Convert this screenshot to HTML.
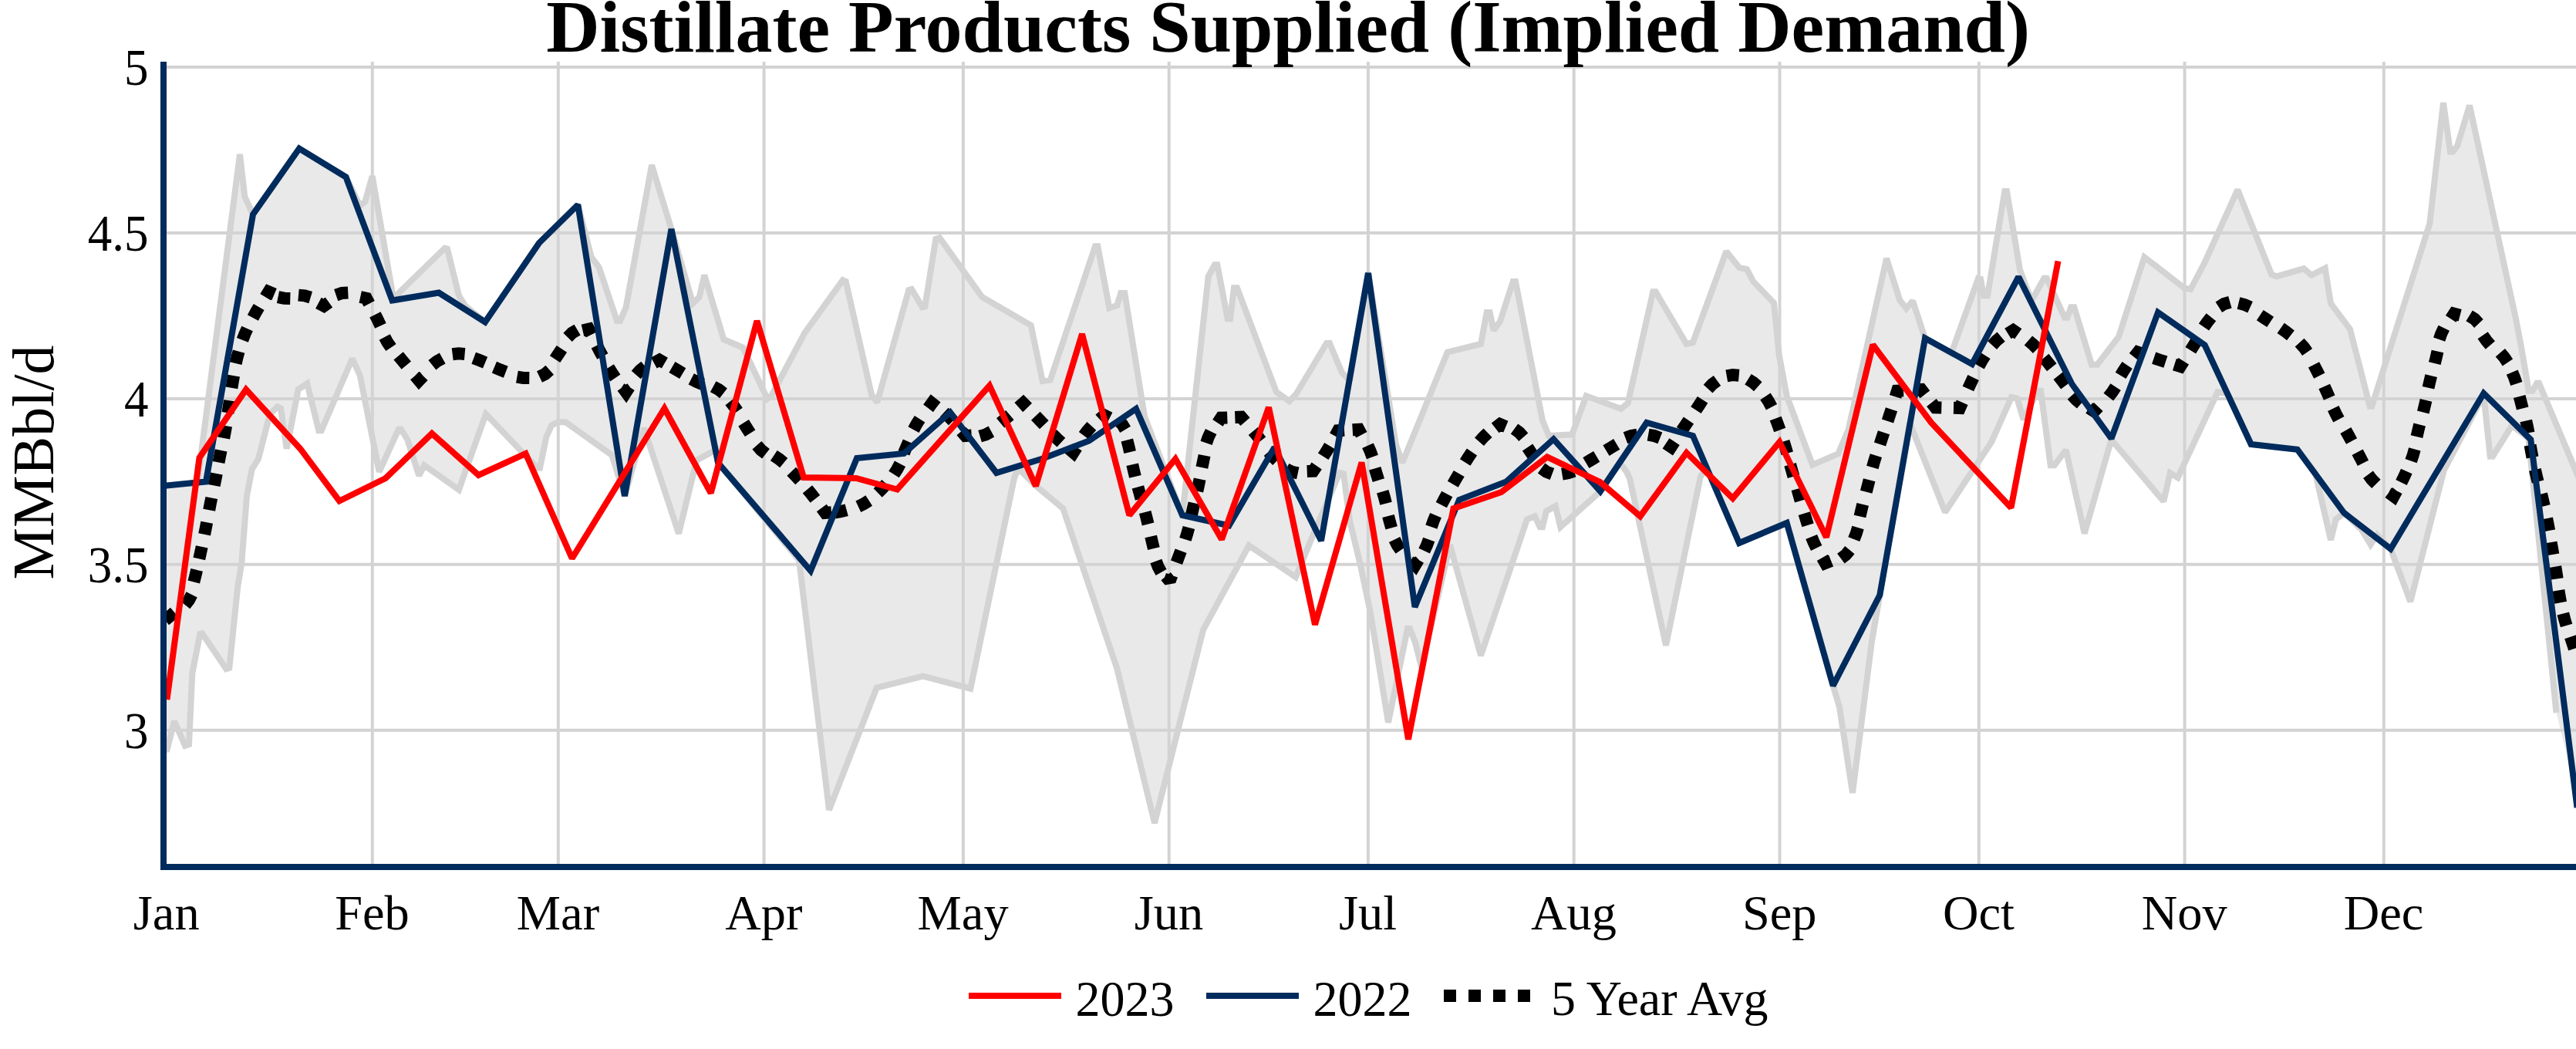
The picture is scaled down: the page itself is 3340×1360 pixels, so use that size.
<!DOCTYPE html>
<html><head><meta charset="utf-8"><title>Distillate Products Supplied</title>
<style>html,body{margin:0;padding:0;background:#fff}body{width:3340px;height:1360px;overflow:hidden;font-family:"Liberation Serif",serif}</style></head>
<body>
<svg width="3340" height="1360" viewBox="0 0 3340 1360" style="display:block">
<rect width="3340" height="1360" fill="#fff"/>
<g stroke="#d3d3d3" stroke-width="4" fill="none"><line x1="482.8" y1="80" x2="482.8" y2="1120"/><line x1="723.8" y1="80" x2="723.8" y2="1120"/><line x1="990.6" y1="80" x2="990.6" y2="1120"/><line x1="1248.9" y1="80" x2="1248.9" y2="1120"/><line x1="1515.7" y1="80" x2="1515.7" y2="1120"/><line x1="1773.9" y1="80" x2="1773.9" y2="1120"/><line x1="2040.7" y1="80" x2="2040.7" y2="1120"/><line x1="2307.5" y1="80" x2="2307.5" y2="1120"/><line x1="2565.8" y1="80" x2="2565.8" y2="1120"/><line x1="2832.6" y1="80" x2="2832.6" y2="1120"/><line x1="3090.8" y1="80" x2="3090.8" y2="1120"/><line x1="216" y1="946.7" x2="3340" y2="946.7"/><line x1="216" y1="731.8" x2="3340" y2="731.8"/><line x1="216" y1="516.9" x2="3340" y2="516.9"/><line x1="216" y1="301.9" x2="3340" y2="301.9"/><line x1="216" y1="87.0" x2="3340" y2="87.0"/></g>
<defs><clipPath id="c"><rect x="216" y="80" width="3124" height="1040"/></clipPath></defs>
<g clip-path="url(#c)" fill="none" stroke-miterlimit="2">
<polygon points="212.0,630.0 256.0,625.5 311.0,200.0 317.3,255.0 328.0,278.0 388.0,192.5 448.5,229.5 466.7,266.7 473.3,261.7 482.7,228.3 510.0,386.7 576.7,321.7 580.0,322.7 595.0,383.3 603.3,396.7 629.0,417.5 699.0,315.0 749.3,265.5 766.7,333.3 776.7,346.7 800.0,416.0 804.0,416.0 811.7,398.3 845.0,214.0 870.5,297.0 898.3,393.3 906.7,385.0 913.3,356.7 938.3,440.0 963.3,450.7 995.0,517.0 1000.0,513.3 1043.3,431.7 1092.7,363.3 1096.7,365.0 1130.0,511.7 1137.3,521.7 1178.3,376.0 1182.0,375.0 1196.0,398.3 1199.3,397.3 1213.3,310.0 1218.3,308.3 1273.3,385.0 1336.7,421.7 1351.7,494.0 1361.7,492.7 1420.0,319.3 1423.3,319.3 1438.3,399.3 1448.3,396.0 1453.3,380.0 1458.3,380.0 1484.0,540.0 1533.0,668.0 1566.7,358.3 1575.0,343.3 1578.3,343.3 1591.7,413.3 1595.0,413.3 1600.0,373.3 1604.0,373.3 1655.0,508.3 1671.7,520.0 1680.0,511.7 1720.0,445.0 1724.0,445.0 1740.0,483.3 1750.0,493.3 1774.0,354.0 1810.0,576.7 1818.3,600.0 1876.7,456.7 1920.0,446.0 1927.7,405.0 1931.7,405.0 1936.7,428.3 1945.0,416.7 1961.7,365.0 1965.0,365.0 2000.0,545.0 2008.3,565.0 2038.3,563.3 2056.7,513.3 2101.7,530.0 2110.7,522.7 2143.3,378.3 2146.7,378.3 2186.7,446.0 2195.0,444.0 2238.3,326.0 2255.0,346.7 2265.0,349.3 2273.3,365.0 2300.0,392.7 2306.7,460.0 2316.7,513.3 2326.7,540.0 2350.0,602.7 2383.3,588.3 2396.7,556.7 2446.0,335.0 2463.3,389.3 2471.7,400.0 2480.0,390.0 2496.0,438.5 2530.0,458.0 2565.0,361.0 2568.0,361.7 2572.0,383.3 2577.0,383.3 2599.3,248.0 2602.0,248.0 2619.0,350.0 2634.0,390.0 2650.3,360.7 2653.7,360.7 2677.0,411.7 2680.3,411.7 2685.3,398.3 2689.3,398.3 2712.0,472.7 2719.3,472.7 2747.0,436.7 2780.3,333.3 2832.0,373.3 2840.3,375.0 2858.7,340.0 2901.3,246.0 2945.3,356.0 2952.0,358.3 2987.0,348.3 2997.0,356.7 3014.7,347.7 3022.0,393.3 3047.0,426.7 3072.7,526.7 3075.3,526.7 3150.3,290.0 3168.0,133.3 3177.0,196.7 3180.3,196.7 3186.0,189.3 3202.0,136.7 3262.0,413.3 3268.7,448.3 3278.7,506.7 3283.7,506.7 3289.3,496.7 3292.0,496.7 3346.0,625.5 3348.0,1060.0 3314.5,924.0 3278.5,568.0 3257.0,551.7 3232.0,591.7 3228.7,591.7 3220.3,512.0 3168.7,610.0 3125.3,780.0 3099.7,711.7 3082.0,693.3 3073.7,706.0 3062.0,686.7 3039.3,665.0 3028.7,673.3 3022.0,700.0 3002.0,613.3 2978.7,582.7 2918.7,576.0 2888.0,510.0 2875.3,508.3 2823.7,619.3 2813.7,613.3 2805.3,650.0 2737.5,570.0 2702.7,691.7 2678.7,583.3 2663.7,603.3 2658.7,603.3 2646.0,506.7 2642.0,506.7 2623.7,544.0 2615.3,516.7 2608.0,515.0 2582.0,573.3 2522.0,664.0 2476.0,548.0 2437.3,771.5 2426.7,833.3 2402.0,1028.0 2385.0,916.7 2376.7,889.0 2316.7,678.0 2255.0,704.0 2213.0,608.0 2205.0,617.0 2160.0,836.7 2113.0,620.0 2108.6,611.0 2100.0,600.0 2075.0,637.0 2023.3,683.3 2016.7,656.0 2005.0,662.7 2000.0,683.3 1996.7,683.3 1990.0,669.3 1980.0,673.3 1920.0,850.0 1880.0,706.7 1843.0,865.0 1835.0,833.3 1828.0,815.0 1825.0,815.0 1800.0,936.7 1776.7,793.3 1763.3,730.0 1750.0,675.0 1742.0,614.0 1737.0,613.0 1703.3,691.7 1680.0,748.3 1619.3,707.3 1560.0,816.7 1497.0,1067.0 1448.3,866.7 1378.3,659.3 1343.3,630.0 1320.0,607.0 1315.0,620.0 1258.3,892.7 1196.7,876.7 1136.7,891.7 1075.0,1050.0 1036.0,726.0 931.0,600.0 928.3,583.3 903.3,596.7 880.0,691.7 835.0,555.0 810.0,643.0 793.3,590.0 733.3,547.3 723.3,547.3 715.0,551.7 708.3,566.7 700.0,606.7 696.7,606.7 630.0,536.7 595.0,635.0 550.0,603.3 543.3,616.7 528.3,570.0 520.0,556.7 516.7,556.7 491.7,611.7 466.7,486.7 456.7,465.0 416.7,558.3 413.3,558.3 398.3,497.3 386.7,505.0 371.7,581.7 364.0,529.3 360.0,527.3 350.0,536.7 335.0,595.0 326.7,608.3 320.0,643.3 313.3,730.0 308.3,760.0 297.3,866.0 293.3,867.3 262.0,821.0 259.3,821.7 249.3,873.3 245.0,965.0 240.0,966.7 226.0,935.0 216.7,971.7 214.0,972.0" fill="#d3d3d3" fill-opacity="0.5" stroke="none"/>
<polyline points="212.0,630.0 256.0,625.5 311.0,200.0 317.3,255.0 328.0,278.0 388.0,192.5 448.5,229.5 466.7,266.7 473.3,261.7 482.7,228.3 510.0,386.7 576.7,321.7 580.0,322.7 595.0,383.3 603.3,396.7 629.0,417.5 699.0,315.0 749.3,265.5 766.7,333.3 776.7,346.7 800.0,416.0 804.0,416.0 811.7,398.3 845.0,214.0 870.5,297.0 898.3,393.3 906.7,385.0 913.3,356.7 938.3,440.0 963.3,450.7 995.0,517.0 1000.0,513.3 1043.3,431.7 1092.7,363.3 1096.7,365.0 1130.0,511.7 1137.3,521.7 1178.3,376.0 1182.0,375.0 1196.0,398.3 1199.3,397.3 1213.3,310.0 1218.3,308.3 1273.3,385.0 1336.7,421.7 1351.7,494.0 1361.7,492.7 1420.0,319.3 1423.3,319.3 1438.3,399.3 1448.3,396.0 1453.3,380.0 1458.3,380.0 1484.0,540.0 1533.0,668.0 1566.7,358.3 1575.0,343.3 1578.3,343.3 1591.7,413.3 1595.0,413.3 1600.0,373.3 1604.0,373.3 1655.0,508.3 1671.7,520.0 1680.0,511.7 1720.0,445.0 1724.0,445.0 1740.0,483.3 1750.0,493.3 1774.0,354.0 1810.0,576.7 1818.3,600.0 1876.7,456.7 1920.0,446.0 1927.7,405.0 1931.7,405.0 1936.7,428.3 1945.0,416.7 1961.7,365.0 1965.0,365.0 2000.0,545.0 2008.3,565.0 2038.3,563.3 2056.7,513.3 2101.7,530.0 2110.7,522.7 2143.3,378.3 2146.7,378.3 2186.7,446.0 2195.0,444.0 2238.3,326.0 2255.0,346.7 2265.0,349.3 2273.3,365.0 2300.0,392.7 2306.7,460.0 2316.7,513.3 2326.7,540.0 2350.0,602.7 2383.3,588.3 2396.7,556.7 2446.0,335.0 2463.3,389.3 2471.7,400.0 2480.0,390.0 2496.0,438.5 2530.0,458.0 2565.0,361.0 2568.0,361.7 2572.0,383.3 2577.0,383.3 2599.3,248.0 2602.0,248.0 2619.0,350.0 2634.0,390.0 2650.3,360.7 2653.7,360.7 2677.0,411.7 2680.3,411.7 2685.3,398.3 2689.3,398.3 2712.0,472.7 2719.3,472.7 2747.0,436.7 2780.3,333.3 2832.0,373.3 2840.3,375.0 2858.7,340.0 2901.3,246.0 2945.3,356.0 2952.0,358.3 2987.0,348.3 2997.0,356.7 3014.7,347.7 3022.0,393.3 3047.0,426.7 3072.7,526.7 3075.3,526.7 3150.3,290.0 3168.0,133.3 3177.0,196.7 3180.3,196.7 3186.0,189.3 3202.0,136.7 3262.0,413.3 3268.7,448.3 3278.7,506.7 3283.7,506.7 3289.3,496.7 3292.0,496.7 3346.0,625.5 3348.0,1060.0" stroke="#d3d3d3" stroke-width="8"/>
<polyline points="214.0,972.0 216.7,971.7 226.0,935.0 240.0,966.7 245.0,965.0 249.3,873.3 259.3,821.7 262.0,821.0 293.3,867.3 297.3,866.0 308.3,760.0 313.3,730.0 320.0,643.3 326.7,608.3 335.0,595.0 350.0,536.7 360.0,527.3 364.0,529.3 371.7,581.7 386.7,505.0 398.3,497.3 413.3,558.3 416.7,558.3 456.7,465.0 466.7,486.7 491.7,611.7 516.7,556.7 520.0,556.7 528.3,570.0 543.3,616.7 550.0,603.3 595.0,635.0 630.0,536.7 696.7,606.7 700.0,606.7 708.3,566.7 715.0,551.7 723.3,547.3 733.3,547.3 793.3,590.0 810.0,643.0 835.0,555.0 880.0,691.7 903.3,596.7 928.3,583.3 931.0,600.0 1036.0,726.0 1075.0,1050.0 1136.7,891.7 1196.7,876.7 1258.3,892.7 1315.0,620.0 1320.0,607.0 1343.3,630.0 1378.3,659.3 1448.3,866.7 1497.0,1067.0 1560.0,816.7 1619.3,707.3 1680.0,748.3 1703.3,691.7 1737.0,613.0 1742.0,614.0 1750.0,675.0 1763.3,730.0 1776.7,793.3 1800.0,936.7 1825.0,815.0 1828.0,815.0 1835.0,833.3 1843.0,865.0 1880.0,706.7 1920.0,850.0 1980.0,673.3 1990.0,669.3 1996.7,683.3 2000.0,683.3 2005.0,662.7 2016.7,656.0 2023.3,683.3 2075.0,637.0 2100.0,600.0 2108.6,611.0 2113.0,620.0 2160.0,836.7 2205.0,617.0 2213.0,608.0 2255.0,704.0 2316.7,678.0 2376.7,889.0 2385.0,916.7 2402.0,1028.0 2426.7,833.3 2437.3,771.5 2476.0,548.0 2522.0,664.0 2582.0,573.3 2608.0,515.0 2615.3,516.7 2623.7,544.0 2642.0,506.7 2646.0,506.7 2658.7,603.3 2663.7,603.3 2678.7,583.3 2702.7,691.7 2737.5,570.0 2805.3,650.0 2813.7,613.3 2823.7,619.3 2875.3,508.3 2888.0,510.0 2918.7,576.0 2978.7,582.7 3002.0,613.3 3022.0,700.0 3028.7,673.3 3039.3,665.0 3062.0,686.7 3073.7,706.0 3082.0,693.3 3099.7,711.7 3125.3,780.0 3168.7,610.0 3220.3,512.0 3228.7,591.7 3232.0,591.7 3257.0,551.7 3278.5,568.0 3314.5,924.0" stroke="#d3d3d3" stroke-width="8"/>
<path d="M213.9 804.1L220.0 799.0L226.1 793.9M240.0 784.3L245.0 778.0L248.6 770.8M251.3 754.5L253.3 746.7L255.1 738.9M258.3 724.5L260.0 716.7L261.7 708.9M265.1 692.8L266.7 685.0L268.2 677.2M271.2 661.2L272.7 653.3L274.3 645.5M277.7 629.5L279.3 621.7L280.8 613.9M283.5 599.5L285.0 591.7L286.6 583.9M290.2 567.9L291.7 560.0L293.1 552.1M295.5 535.2L296.7 527.3L297.9 519.4M300.4 502.9L301.7 495.0L303.1 487.1M305.7 471.1L307.5 463.3L309.6 455.6M314.4 440.8L317.3 433.3L320.6 426.0M327.9 412.0L331.7 405.0L335.7 398.1M344.1 385.1L348.3 378.3L355.7 381.4M360.5 385.1L368.3 386.7L376.3 386.9M387.0 382.6L395.0 383.3L402.7 385.6M412.9 392.9L420.0 396.7L426.5 392.0M435.7 382.6L443.3 380.0L451.3 379.6M467.2 385.0L475.0 386.7L478.7 393.8M486.4 407.8L490.0 415.0L493.4 422.3M498.7 437.0L502.5 444.0L507.0 450.6M516.6 461.3L521.7 467.5L526.8 473.7M538.2 487.2L543.3 493.3L548.8 487.5M560.4 473.3L566.7 468.3L573.7 464.4M586.7 459.3L594.6 458.3L602.6 459.0M614.2 464.2L621.7 467.0L629.1 470.1M640.9 476.2L648.3 479.3L655.8 482.2M670.4 488.6L678.3 490.0L686.3 490.1M699.5 488.5L706.7 485.0L712.7 479.7M719.6 465.7L724.0 459.0L728.4 452.3M736.1 437.4L741.7 431.7L748.6 427.6M755.5 428.5L763.3 426.7L766.9 433.9M773.8 447.9L777.5 455.0L781.3 462.0M789.1 476.5L793.3 483.3L797.8 489.9M807.0 501.9L811.7 508.3L816.0 501.6M824.7 486.0L830.0 480.0L836.3 475.0M847.9 470.5L855.0 466.7L861.9 470.7M871.4 476.0L878.3 480.0L885.2 484.1M896.2 491.4L903.3 495.0L910.7 498.2M924.7 501.2L931.7 505.0L938.0 509.9M946.7 520.4L951.7 526.7L956.2 533.3M964.1 548.2L968.3 555.0L972.6 561.8M981.4 577.3L986.7 583.3L993.0 588.2M1003.3 590.6L1010.0 595.0L1016.2 600.1M1026.2 611.2L1031.7 617.0L1037.1 622.9M1046.9 634.3L1052.0 640.5L1056.9 646.8M1065.3 658.6L1070.0 665.0L1078.0 664.3M1082.1 664.7L1090.0 663.3L1097.7 661.2M1112.8 656.7L1120.0 653.3L1126.7 649.0M1138.2 638.9L1144.0 633.3L1149.3 627.3M1159.0 615.0L1163.3 608.3L1167.0 601.2M1171.9 587.4L1175.0 580.0L1178.2 572.7M1184.5 557.1L1188.3 550.0L1192.6 543.2M1203.6 529.2L1208.3 522.7L1214.6 527.7M1224.1 534.6L1230.0 540.0L1235.6 545.7M1246.5 559.0L1251.7 565.0L1259.7 564.5M1270.6 565.6L1278.3 563.3L1285.4 559.5M1297.1 548.4L1303.3 543.3L1309.4 538.1M1320.7 528.0L1326.7 522.7L1332.3 528.4M1342.8 539.2L1348.3 545.0L1353.8 550.8M1364.3 562.7L1370.0 568.3L1375.9 573.7M1385.6 581.5L1391.7 586.7L1396.0 580.0M1405.2 564.7L1410.0 558.3L1415.4 552.4M1425.8 543.7L1431.7 538.3L1438.8 541.9M1449.2 544.5L1455.0 550.0L1459.1 556.9M1461.3 570.6L1463.3 578.3L1465.1 586.1M1468.2 602.2L1470.0 610.0L1471.9 617.8M1475.4 631.3L1477.5 639.0L1479.6 646.7M1484.7 664.0L1486.7 671.7L1488.6 679.5M1492.2 695.5L1494.0 703.3L1495.9 711.1M1498.9 727.5L1501.7 735.0L1505.6 742.0M1511.6 747.1L1516.7 753.3L1519.5 745.8M1525.5 729.2L1528.3 721.7L1531.1 714.2M1536.9 699.3L1539.3 691.7L1541.4 684.0M1544.9 667.8L1546.7 660.0L1548.5 652.2M1552.3 636.8L1554.0 629.0L1555.6 621.2M1558.4 606.1L1560.0 598.3L1561.6 590.5M1564.1 574.3L1566.7 566.7L1570.2 559.5M1578.9 548.4L1583.3 541.7L1591.3 541.4M1601.3 541.0L1609.3 540.7L1614.5 546.8M1624.9 558.8L1630.0 565.0L1634.9 571.3M1644.7 585.7L1650.0 591.7L1655.8 597.2M1667.8 608.2L1675.0 611.7L1682.8 613.4M1694.7 611.0L1702.7 610.7L1707.2 604.1M1715.7 591.8L1720.0 585.0L1724.1 578.1M1731.1 565.3L1735.0 558.3L1743.0 557.8M1753.7 557.2L1761.7 556.7L1765.4 563.8M1773.5 577.7L1776.7 585.0L1779.4 592.5M1782.7 607.3L1785.0 615.0L1787.4 622.6M1792.7 637.3L1795.0 645.0L1797.0 652.7M1800.0 668.9L1802.0 676.7L1804.2 684.4M1808.1 699.5L1811.7 706.7L1816.2 713.3M1829.6 726.6L1835.0 732.5L1839.1 725.6M1846.6 714.2L1850.0 707.0L1852.7 699.5M1855.9 683.1L1858.5 675.5L1861.6 668.1M1868.8 654.6L1872.5 647.5L1876.3 640.5M1883.8 627.7L1887.8 620.8L1891.8 613.9M1899.7 599.5L1904.0 592.7L1908.5 586.1M1918.0 572.7L1923.3 566.7L1929.1 561.2M1938.7 554.9L1945.0 550.0L1952.4 553.1M1963.5 556.0L1970.0 560.7L1975.3 566.7M1980.6 580.0L1985.0 586.7L1989.7 593.2M1998.6 607.0L2005.0 611.7L2012.5 614.5M2025.4 614.6L2033.3 613.3L2040.8 610.6M2056.4 600.1L2063.3 596.0L2070.2 591.9M2082.5 584.1L2089.3 580.0L2096.2 575.9M2107.5 567.8L2115.0 565.0L2122.9 563.6M2137.1 563.6L2145.0 565.0L2152.4 567.9M2160.0 574.9L2166.7 579.3L2171.1 572.6M2180.5 558.3L2185.0 551.7L2189.5 545.1M2198.9 531.7L2203.3 525.0L2207.6 518.3M2214.6 504.2L2220.0 498.3L2226.5 493.6M2238.8 487.4L2246.7 486.0L2254.7 486.7M2266.5 491.8L2273.3 496.0L2279.3 501.3M2288.9 514.0L2293.3 520.7L2297.0 527.8M2302.2 542.5L2305.0 550.0L2307.7 557.5M2312.6 572.4L2315.0 580.0L2317.3 587.7M2321.1 602.3L2323.3 610.0L2325.5 617.7M2330.3 633.9L2332.5 641.6L2334.7 649.3M2339.4 665.6L2341.7 673.3L2344.1 680.9M2348.7 695.9L2351.7 703.3L2355.2 710.5M2362.8 723.0L2366.7 730.0L2374.1 727.0M2386.9 724.1L2393.3 719.3L2398.4 713.1M2403.8 699.1L2406.7 691.7L2409.0 684.0M2411.5 669.5L2413.3 661.7L2415.2 653.9M2419.7 637.7L2421.7 630.0L2423.7 622.3M2427.8 606.0L2430.0 598.3L2432.4 590.7M2437.5 575.9L2440.0 568.3L2442.5 560.7M2447.5 545.9L2450.0 538.3L2452.5 530.7M2457.6 514.3L2460.0 506.7L2468.0 506.3M2483.0 505.4L2491.0 505.0L2495.9 511.3M2504.4 522.0L2509.3 528.3L2517.3 528.5M2533.0 528.8L2541.0 529.0L2544.2 521.7M2551.9 504.0L2555.2 496.7L2558.6 489.5M2565.7 474.5L2569.6 467.5L2573.9 460.8M2583.1 447.6L2588.5 441.7L2594.6 436.6M2603.4 432.5L2610.2 428.3L2616.7 432.9M2629.9 441.5L2636.0 446.7L2641.6 452.4M2650.2 463.8L2655.3 470.0L2660.3 476.2M2668.8 487.0L2673.7 493.3L2678.5 499.7M2686.6 512.4L2692.0 518.3L2698.1 523.5M2708.6 529.0L2715.3 533.3L2720.8 527.5M2733.8 514.6L2738.7 508.3L2743.1 501.6M2749.6 486.8L2753.7 480.0L2758.2 473.4M2767.1 463.0L2772.0 456.7L2779.5 459.4M2792.7 464.1L2800.3 466.7L2807.9 469.2M2819.4 472.6L2827.0 475.0L2831.3 468.3M2840.3 454.3L2844.5 447.5L2848.6 440.6M2857.5 424.1L2862.0 417.5L2867.0 411.2M2876.9 398.3L2883.7 394.0L2891.4 391.8M2902.5 393.1L2910.3 395.0L2917.6 398.3M2930.3 408.6L2937.0 413.0L2943.7 417.4M2957.2 425.4L2963.7 430.0L2970.0 434.9M2981.6 444.1L2987.0 450.0L2991.6 456.5M3000.0 472.9L3003.7 480.0L3007.3 487.2M3013.7 501.0L3017.0 508.3L3020.2 515.6M3025.3 529.5L3028.7 536.7L3032.4 543.8M3041.4 558.0L3045.3 565.0L3049.1 572.0M3056.6 586.2L3060.3 593.3L3064.0 600.4M3070.5 615.3L3075.3 621.7L3080.9 627.4M3097.3 638.5L3103.7 643.3L3107.5 636.2M3113.5 625.5L3117.0 618.3L3120.3 611.0M3126.1 597.6L3128.7 590.0L3130.8 582.3M3133.5 566.1L3135.3 558.3L3137.2 550.5M3141.8 534.5L3143.7 526.7L3145.5 518.9M3148.5 502.8L3150.3 495.0L3152.2 487.2M3156.8 471.1L3158.7 463.3L3160.5 455.5M3162.7 440.1L3165.3 432.5L3168.8 425.3M3177.7 413.4L3182.0 406.7L3189.7 408.7M3201.6 409.4L3208.4 413.6L3213.9 419.4M3219.1 434.8L3223.7 441.4L3228.9 447.5M3241.8 457.2L3247.0 463.3L3251.4 470.0M3257.2 482.6L3260.3 490.0L3262.8 497.6M3266.7 514.0L3268.7 521.7L3270.7 529.4M3275.2 545.5L3277.0 553.3L3278.5 561.2M3280.6 577.1L3282.0 585.0L3283.5 592.9M3286.9 608.9L3288.7 616.7L3290.6 624.5M3295.1 640.5L3297.0 648.3L3298.8 656.1M3302.1 672.2L3303.7 680.0L3305.2 687.9M3307.6 703.1L3309.0 711.0L3310.4 718.9M3313.2 734.6L3314.5 742.5L3315.7 750.4M3317.4 765.4L3318.7 773.3L3320.2 781.2M3323.3 795.6L3325.3 803.3L3327.6 811.0M3332.8 825.7L3335.3 833.3L3337.8 840.9" stroke="#000" stroke-width="16" stroke-linejoin="miter"/>
<polyline points="212.0,630.0 267.0,624.5 328.0,278.0 388.0,192.5 448.5,229.5 508.5,389.5 569.0,379.5 629.0,417.5 699.0,315.0 749.3,265.5 810.0,643.0 870.5,297.0 931.0,600.0 1051.0,740.0 1111.0,594.0 1172.0,588.0 1232.0,534.5 1292.0,613.0 1352.0,594.5 1412.0,571.5 1473.0,530.0 1533.0,668.0 1593.5,681.5 1652.5,580.0 1713.0,701.0 1774.0,354.0 1834.5,787.0 1892.0,648.0 1953.0,624.5 2014.3,569.3 2075.0,637.0 2135.0,548.0 2195.0,565.0 2255.0,704.0 2316.7,678.0 2376.7,889.0 2437.3,771.5 2496.0,438.5 2557.0,472.0 2617.2,359.0 2686.5,498.0 2737.5,568.5 2798.0,405.0 2858.7,447.5 2918.7,576.0 2978.7,582.7 3039.3,665.0 3099.7,711.7 3220.3,510.0 3281.3,570.0 3341.5,1047.0" stroke="#002b5c" stroke-width="8"/>
<polyline points="216.5,907.0 258.5,593.5 319.0,505.0 389.3,581.7 440.0,649.5 500.0,620.0 560.0,562.0 620.5,616.0 681.5,588.0 741.7,724.0 861.5,529.5 921.7,639.3 981.5,416.0 1042.0,619.0 1110.0,620.0 1163.3,634.5 1283.0,500.0 1343.0,630.0 1403.0,433.0 1464.3,668.0 1524.0,595.0 1584.0,699.3 1645.0,528.0 1705.0,810.0 1765.5,599.5 1826.0,958.5 1884.5,659.3 1946.7,638.0 2006.0,592.5 2074.5,625.0 2126.7,669.3 2186.7,587.0 2246.7,646.0 2307.3,573.0 2368.0,696.5 2428.3,447.0 2504.0,548.0 2607.5,658.3 2668.5,338.5" stroke="#ff0000" stroke-width="8"/>
</g>
<rect x="208" y="80" width="8" height="1048" fill="#002b5c"/>
<rect x="208" y="1120" width="3132" height="8" fill="#002b5c"/>
<g font-family="'Liberation Serif', serif" fill="#000">
<text x="1670" y="66.5" font-size="96" font-weight="bold" text-anchor="middle">Distillate Products Supplied (Implied Demand)</text>
<text x="215.7" y="1205" font-size="64.4" text-anchor="middle">Jan</text>
<text x="482.5" y="1205" font-size="64.4" text-anchor="middle">Feb</text>
<text x="723.5" y="1205" font-size="64.4" text-anchor="middle">Mar</text>
<text x="990.3" y="1205" font-size="64.4" text-anchor="middle">Apr</text>
<text x="1248.6" y="1205" font-size="64.4" text-anchor="middle">May</text>
<text x="1515.4" y="1205" font-size="64.4" text-anchor="middle">Jun</text>
<text x="1773.6" y="1205" font-size="64.4" text-anchor="middle">Jul</text>
<text x="2040.4" y="1205" font-size="64.4" text-anchor="middle">Aug</text>
<text x="2307.2" y="1205" font-size="64.4" text-anchor="middle">Sep</text>
<text x="2565.5" y="1205" font-size="64.4" text-anchor="middle">Oct</text>
<text x="2832.3" y="1205" font-size="64.4" text-anchor="middle">Nov</text>
<text x="3090.5" y="1205" font-size="64.4" text-anchor="middle">Dec</text>
<text transform="translate(192.5,969.7) scale(0.985,1.045)" font-size="64" text-anchor="end">3</text>
<text transform="translate(192.5,754.8) scale(0.985,1.045)" font-size="64" text-anchor="end">3.5</text>
<text transform="translate(192.5,539.9) scale(0.985,1.045)" font-size="64" text-anchor="end">4</text>
<text transform="translate(192.5,324.9) scale(0.985,1.045)" font-size="64" text-anchor="end">4.5</text>
<text transform="translate(192.5,110.0) scale(0.985,1.045)" font-size="64" text-anchor="end">5</text>
<text transform="translate(68.5,599.5) rotate(-90)" font-size="76" text-anchor="middle">MMBbl/d</text>
<text transform="translate(1394.5,1316.5) scale(1,1.04)" font-size="64">2023</text>
<text transform="translate(1702.5,1316.5) scale(1,1.04)" font-size="64">2022</text>
<text x="2011" y="1316" font-size="64">5 Year Avg</text>
</g>
<line x1="1256" y1="1291" x2="1376" y2="1291" stroke="#ff0000" stroke-width="8"/>
<line x1="1564" y1="1291" x2="1684" y2="1291" stroke="#002b5c" stroke-width="8"/>
<line x1="1872" y1="1291" x2="1992" y2="1291" stroke="#000" stroke-width="16" stroke-dasharray="16 16"/>
</svg>
</body></html>
